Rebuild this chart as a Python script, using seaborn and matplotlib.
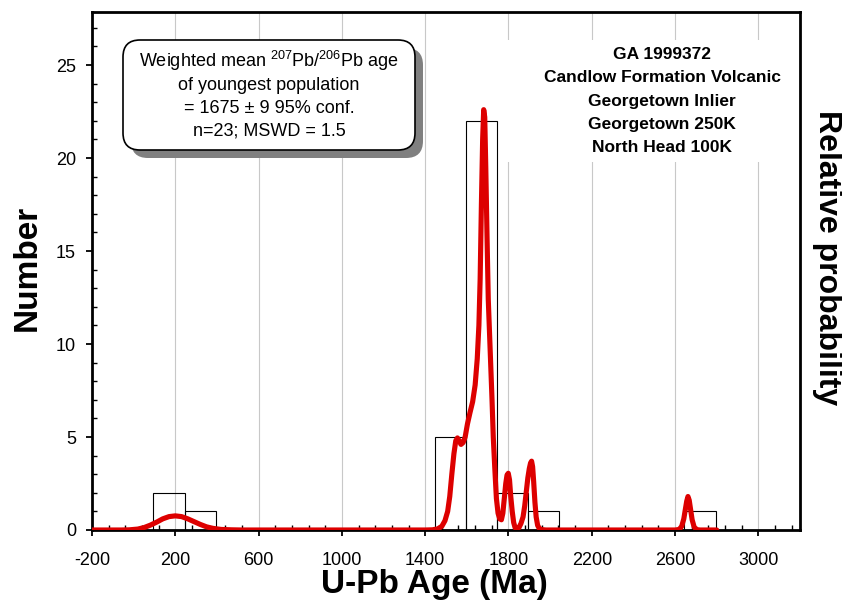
import numpy as np
import pandas as pd
import matplotlib
matplotlib.use("Agg")
import matplotlib.pyplot as plt
import seaborn as sns
from matplotlib.patches import FancyBboxPatch, Rectangle
from matplotlib.transforms import IdentityTransform
from matplotlib.ticker import MultipleLocator, FixedLocator

# ---------------- data ----------------
bin_left = [95, 245, 1445, 1595, 1745, 1895, 2645]
bin_counts = [2, 1, 5, 22, 2, 1, 1]
bin_width = 150

curve_age = [-200, -60, -20, 20, 50, 80, 110, 140, 170, 200, 230, 260, 290, 320, 350, 380, 420, 470, 520,
             1400, 1435, 1460, 1480, 1495, 1508, 1518, 1528, 1538, 1547, 1555, 1563, 1572, 1582, 1592,
             1603, 1615, 1628, 1640, 1650, 1658, 1664, 1670, 1676, 1681, 1686, 1691, 1697, 1703, 1709,
             1715, 1721, 1727, 1734, 1742, 1750, 1758, 1766, 1773, 1780, 1787, 1793, 1799, 1805, 1811,
             1818, 1825, 1832, 1840, 1850, 1860, 1870, 1878, 1886, 1893, 1900, 1906, 1911, 1916, 1921,
             1927, 1933, 1940, 1948, 1960, 1980,
             2600, 2620, 2632, 2642, 2650, 2656, 2662, 2668, 2674, 2682, 2692, 2705, 2720, 2800]
curve_prob = [0, 0, 0.01, 0.05, 0.13, 0.26, 0.42, 0.6, 0.72, 0.76, 0.72, 0.6, 0.45, 0.3, 0.17, 0.09, 0.03, 0.01, 0,
              0, 0.01, 0.06, 0.2, 0.5, 1.0, 1.8, 3.0, 4.1, 4.8, 4.95, 4.8, 4.6, 4.7, 5.0,
              5.7, 6.3, 6.9, 7.8, 9.2, 11.0, 13.5, 17.5, 21.0, 22.6, 22.2, 19.5, 15.8, 12.4, 10.6,
              8.8, 7.0, 5.0, 3.4, 1.7, 0.9, 0.6, 0.55, 0.9, 1.7, 2.5, 2.95, 3.05, 2.7, 1.8,
              1.0, 0.4, 0.12, 0.05, 0.12, 0.35, 0.7, 1.3, 2.1, 2.8, 3.3, 3.6, 3.7, 3.4, 2.6,
              1.5, 0.7, 0.25, 0.08, 0.02, 0,
              0, 0.03, 0.2, 0.6, 1.15, 1.55, 1.8, 1.6, 1.15, 0.55, 0.15, 0.02, 0, 0]

x_ticks = [-200, 200, 600, 1000, 1400, 1800, 2200, 2600, 3000]
y_ticks = [0, 5, 10, 15, 20, 25]

box_lines = [r"Weighted mean $^{207}$Pb/$^{206}$Pb age",
             "of youngest population",
             "= 1675 ± 9 95% conf.",
             "n=23; MSWD = 1.5"]
sample_lines = ["GA 1999372", "Candlow Formation Volcanic", "Georgetown Inlier",
                "Georgetown 250K", "North Head 100K"]

# ---------------- style ----------------
sns.set_theme(style="white")
plt.rcParams["font.family"] = ["Liberation Sans", "DejaVu Sans"]
plt.rcParams["mathtext.fontset"] = "custom"
plt.rcParams["mathtext.rm"] = "Liberation Sans"
plt.rcParams["mathtext.it"] = "Liberation Sans:italic"
plt.rcParams["mathtext.bf"] = "Liberation Sans:bold"

W, H = 842, 613
fig = plt.figure(figsize=(W / 100, H / 100), dpi=100)
fig.patch.set_facecolor("white")
ax = fig.add_axes([92 / W, 1 - 530 / H, 708 / W, 518 / H])
ax.set_facecolor("white")

hist_df = pd.DataFrame({"age": [b + bin_width / 2 for b in bin_left],
                        "count": [float(c) for c in bin_counts]})
edges = [float(e) for e in np.arange(bin_left[0], bin_left[-1] + bin_width + 1, bin_width)]
sns.histplot(data=hist_df, x="age", weights="count", bins=edges, fill=False,
             color="black", linewidth=0.8, ax=ax)

sns.lineplot(x=curve_age, y=curve_prob, color="#DD0000", linewidth=3.7, ax=ax,
             zorder=5, solid_capstyle="round", solid_joinstyle="round")

ax.set_xlim(-200, 3200)
ax.set_ylim(0, 27.85)
ax.set_xlabel("")
ax.set_ylabel("")

ax.xaxis.set_major_locator(FixedLocator(x_ticks))
ax.xaxis.set_minor_locator(MultipleLocator(80, offset=-200))
ax.yaxis.set_major_locator(FixedLocator(y_ticks))
ax.yaxis.set_minor_locator(MultipleLocator(1))
ax.set_xticklabels([str(t) for t in x_ticks])
ax.set_yticklabels([str(t) for t in y_ticks])

ax.tick_params(which="major", direction="out", length=4.5, width=1.3, color="black",
               labelsize=13, labelcolor="black", bottom=True, left=True)
ax.tick_params(axis="x", which="major", pad=11)
ax.tick_params(axis="y", which="major", pad=7)
ax.tick_params(which="minor", direction="in", length=3.5, width=1.0, color="black",
               bottom=True, left=True)

ax.grid(axis="x", which="major", color="#C8C8C8", linewidth=0.8)
ax.grid(axis="y", visible=False)
ax.set_axisbelow(True)

for s in ax.spines.values():
    s.set_visible(True)
    s.set_color("black")
    s.set_linewidth(2.0)

# annotation box with shadow (pixel coordinates)
bx0, by_top, bw, bh = 123, 40, 292, 110
shadow = FancyBboxPatch((bx0 + 8, H - by_top - bh - 8), bw, bh,
                        boxstyle="round,pad=0,rounding_size=17",
                        transform=IdentityTransform(), fc="#808080", ec="none", zorder=2)
box = FancyBboxPatch((bx0, H - by_top - bh), bw, bh,
                     boxstyle="round,pad=0,rounding_size=17",
                     transform=IdentityTransform(), fc="white", ec="black", lw=1.2, zorder=2.1)
fig.add_artist(shadow)
fig.add_artist(box)
for line, yb in zip(box_lines, [67, 90, 113, 135]):
    fig.text(269 / W, 1 - yb / H, line, ha="center", va="baseline", fontsize=13,
             color="black", zorder=4)

# sample info block
wrect = Rectangle((500, H - 162), 296, 122, transform=IdentityTransform(),
                  fc="white", ec="none", zorder=2)
fig.add_artist(wrect)
for line, yb in zip(sample_lines, [59, 82.5, 106, 129, 152]):
    fig.text(662 / W, 1 - yb / H, line, ha="center", va="baseline", fontsize=12.5,
             fontweight="bold", color="black", zorder=4)

# axis titles
fig.text(434 / W, 1 - 585 / H, "U-Pb Age (Ma)", ha="center", va="center",
         fontsize=24, fontweight="bold", color="black")
fig.text(27 / W, 1 - 268 / H, "Number", ha="center", va="center", rotation=90,
         fontsize=24, fontweight="bold", color="black")
fig.text(827 / W, 1 - 258 / H, "Relative probability", ha="center", va="center",
         rotation=270, fontsize=23, fontweight="bold", color="black")

fig.savefig("out.png", dpi=100, facecolor="white")
